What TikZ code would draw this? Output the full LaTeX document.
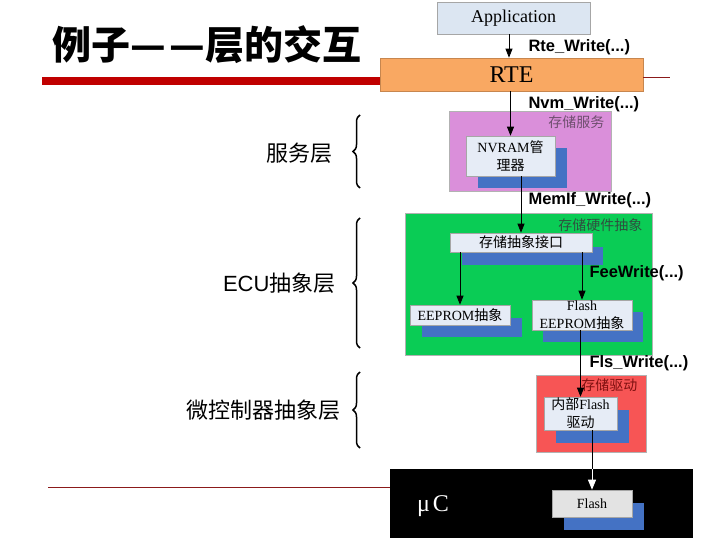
\documentclass[tikz,border=0pt]{standalone}
\usepackage{fontspec}
\setmainfont{Liberation Serif}
\newfontfamily\cjk{Noto Sans CJK SC}
\newfontfamily\arial{Liberation Sans}
\usetikzlibrary{arrows.meta,decorations.pathreplacing}
\definecolor{appfill}{HTML}{DCE6F2}
\definecolor{rtefill}{HTML}{F9A862}
\definecolor{svcfill}{HTML}{DA8FDA}
\definecolor{hwfill}{HTML}{0ACC55}
\definecolor{drvfill}{HTML}{F75555}
\definecolor{shadowblue}{HTML}{4472C4}
\definecolor{innerfill}{HTML}{E6ECF6}
\definecolor{titlered}{HTML}{C00000}
\definecolor{thinred}{HTML}{8B1A1A}
\definecolor{svclabel}{HTML}{6F4F6F}
\definecolor{hwlabel}{HTML}{2F4F3F}
\definecolor{drvlabel}{HTML}{7F1010}
\tikzset{
  box/.style={draw=gray!70, line width=0.6pt, inner sep=0pt, align=center},
  inner/.style={box, fill=innerfill, font=\fontsize{14}{18}\selectfont},
  shadowbox/.style={fill=shadowblue, inner sep=0pt},
  layer/.style={draw=gray!60, line width=0.5pt, inner sep=0pt},
  call/.style={anchor=west, font=\arial\bfseries\fontsize{16.5}{18}\selectfont},
  arr/.style={line width=0.8pt, -{Triangle[length=9pt,width=7pt]}},
  sublabel/.style={anchor=east, font=\cjk\fontsize{14}{16}\selectfont},
  side/.style={anchor=east, font=\fontsize{22}{24}\selectfont},
  lbrace/.style={decorate, decoration={brace, amplitude=7pt}, line width=1.5pt}
}
\begin{document}
\begin{tikzpicture}[x=1pt,y=-1pt]
\useasboundingbox (0,0) rectangle (720,540);
% title and rules
\node[font=\cjk\bfseries\fontsize{39}{42}\selectfont] (title) at (207,45) {例子—\hspace{4pt}—层的交互};
\coordinate (rl) at (42,81);
\coordinate (tl) at (48,487);
\coordinate (tr) at (670,77);
% application / RTE
\node[box, fill=appfill, minimum width=153pt, minimum height=32pt, font=\fontsize{18}{20}\selectfont] (app) at (513.5,18) {Application};
\node[box, draw=rtefill!80!black, fill=rtefill, minimum width=263pt, minimum height=33pt, font=\fontsize{24}{26}\selectfont] (rte) at (511.5,74.5) {RTE};
\fill[titlered] (rl) ++(0,-4) rectangle (rte.west |- 0,85);
\draw[thinred, line width=0.8pt] (rte.east |- tr) -- (tr);
% service layer
\node[layer, fill=svcfill, minimum width=162pt, minimum height=80pt] (svc) at (530,151) {};
\node[sublabel, text=svclabel] (svcl) at (608,122) {存储服务};
\node[shadowbox, minimum width=89pt, minimum height=40pt] (nvsh) at (522.5,168) {};
\node[inner, minimum width=89pt, minimum height=40pt] (nvram) at (510.5,156) {NVRAM{\cjk 管}\\{\cjk 理器}};
% hardware abstraction
\node[layer, fill=hwfill, minimum width=247pt, minimum height=142pt] (hw) at (528.5,284) {};
\node[sublabel, text=hwlabel] (hwl) at (646,225) {存储硬件抽象};
\node[shadowbox, minimum width=141pt, minimum height=18pt] (ifsh) at (532.5,256) {};
\node[inner, minimum width=142pt, minimum height=19pt, font=\cjk\fontsize{14}{16}\selectfont] (iface) at (521,242.5) {存储抽象接口};
\node[shadowbox, minimum width=100pt, minimum height=19pt] (eesh) at (472,327.5) {};
\node[inner, minimum width=100pt, minimum height=20pt] (eeprom) at (460,315) {EEPROM{\cjk 抽象}};
\node[shadowbox, minimum width=100pt, minimum height=30pt] (feesh) at (593,327) {};
\node[inner, minimum width=100pt, minimum height=30pt] (fee) at (582,315) {Flash\\EEPROM{\cjk 抽象}};
% driver
\node[layer, fill=drvfill, minimum width=110pt, minimum height=77pt] (drvbox) at (591,413.5) {};
\node[sublabel, text=drvlabel] (drvl) at (641,385) {存储驱动};
\node[shadowbox, minimum width=73pt, minimum height=33pt] (drvsh) at (592.5,426) {};
\node[inner, minimum width=73pt, minimum height=33pt] (drv) at (580.5,413.5) {{\cjk 内部}Flash\\{\cjk 驱动}};
% microcontroller
\draw[thinred, line width=0.8pt] (tl) -- (390,487);
\node[fill=black, minimum width=303pt, minimum height=69pt, inner sep=0pt] (uc) at (541.5,503.5) {};
\node[text=white, font=\fontsize{24}{26}\selectfont] (ucl) at (433,506) {μ\hspace{3pt}C};
\node[shadowbox, minimum width=80pt, minimum height=27pt] (flsh) at (604,516) {};
\node[box, fill=gray!22, minimum width=80pt, minimum height=27pt, font=\fontsize{14}{16}\selectfont] (flash) at (592,503.5) {Flash};
% connectors
\draw[arr] (app.south -| 509,0) -- (rte.north -| 509,0);
\draw[arr] (nvram.north |- rte.south) -- (nvram.north);
\draw[arr] (iface.north |- nvram.south) -- (iface.north);
\draw[arr] (eeprom.north |- iface.south) -- (eeprom.north);
\draw[arr] (fee.north |- iface.south) -- (fee.north);
\draw[arr] (fee.south -| 580.5,0) -- (drv.north);
\draw[line width=0.8pt] (flash.north |- drv.south) -- (flash.north |- uc.north);
\draw[white, line width=0.8pt, -{Triangle[length=10pt,width=8pt,fill=white]}] (flash.north |- uc.north) -- (flash.north);
% call labels
\node[call] (c1) at (525,47) {Rte\_Write(...)};
\node[call] (c2) at (525,104) {Nvm\_Write(...)};
\node[call] (c3) at (525,200) {MemIf\_Write(...)};
\node[call] (c4) at (586,273) {FeeWrite(...)};
\node[call] (c5) at (586,363) {Fls\_Write(...)};
% side layer labels and braces
\node[side] (s1) at (336,153) {\cjk 服务层};
\node[side] (s2) at (339,283) {{\arial ECU}{\cjk 抽象层}};
\node[side] (s3) at (344,410) {\cjk 微控制器抽象层};
\coordinate (b1a) at (360,188); \coordinate (b1b) at (360,115);
\coordinate (b2a) at (360,348); \coordinate (b2b) at (360,218);
\coordinate (b3a) at (360,448); \coordinate (b3b) at (360,372);
\draw[lbrace] (b1a) -- (b1b);
\draw[lbrace] (b2a) -- (b2b);
\draw[lbrace] (b3a) -- (b3b);
\end{tikzpicture}
\end{document}
